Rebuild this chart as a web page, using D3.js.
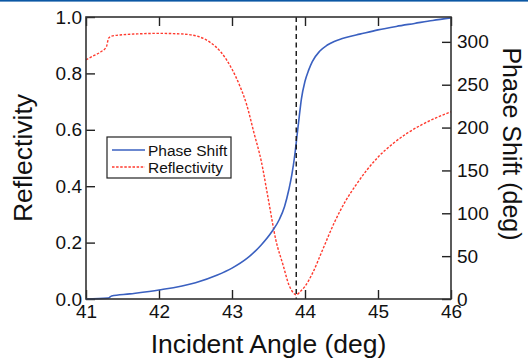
<!DOCTYPE html>
<html>
<head>
<meta charset="utf-8">
<script src="https://cdnjs.cloudflare.com/ajax/libs/d3/7.8.5/d3.min.js"></script>
<style>
  body { margin: 0; background: #fff; }
  svg { display: block; font-family: "Liberation Sans", Arial, sans-serif; }
</style>
</head>
<body>
<div id="chart"></div>
<script>
var width = 528, height = 358;
var margin = {left: 86, right: 77, top: 17, bottom: 59};

// reflectivity curve (red dotted)
var reflAngle = [41.0, 41.1, 41.2, 41.28, 41.31, 41.35, 41.5, 41.7, 42.0, 42.2, 42.4, 42.55, 42.7, 42.85,
  43.0, 43.1, 43.2, 43.3, 43.4, 43.5, 43.6, 43.7, 43.78, 43.84, 43.88, 43.93, 44.0, 44.1, 44.25,
  44.4, 44.55, 44.7, 44.85, 45.0, 45.2, 45.4, 45.6, 45.8, 46.0];
var reflValue = [0.848, 0.862, 0.876, 0.895, 0.925, 0.932, 0.937, 0.940, 0.942, 0.941, 0.938, 0.930, 0.910, 0.875,
  0.815, 0.76, 0.69, 0.59, 0.49, 0.35, 0.21, 0.12, 0.05, 0.022, 0.015, 0.025, 0.045, 0.09, 0.18,
  0.27, 0.345, 0.405, 0.458, 0.503, 0.55, 0.588, 0.618, 0.643, 0.664];

// phase shift curve (blue)
var phaseAngle = [41.0, 41.3, 41.35, 41.6, 42.0, 42.5, 42.8, 43.0, 43.2, 43.4, 43.55, 43.65, 43.72, 43.78,
  43.82, 43.86, 43.89, 43.92, 43.95, 44.0, 44.05, 44.1, 44.2, 44.3, 44.4, 44.5, 44.6, 44.75,
  45.0, 45.25, 45.5, 45.75, 46.0];
var phaseValue = [0, 1, 3.5, 6, 10.5, 19, 28, 36, 47, 63, 79, 93, 108, 128,
  145, 168, 190, 212, 233, 254, 267, 277, 289, 296, 300.5, 303.5, 306, 309,
  314, 318, 321.5, 325, 328];

var resonanceAngle = 43.88;

var xTicks = [41, 42, 43, 44, 45, 46];
var reflTicks = [0.0, 0.2, 0.4, 0.6, 0.8, 1.0];
var phaseTicks = [0, 50, 100, 150, 200, 250, 300];

var legendLabels = ["Phase Shift", "Reflectivity"];

var svg = d3.select("#chart").append("svg")
  .attr("width", width)
  .attr("height", height);

// thin blue rule at the very top
svg.append("rect")
  .attr("x", 0).attr("y", 0)
  .attr("width", width).attr("height", 1.6)
  .attr("fill", "#0b57a4");

var x = d3.scaleLinear().domain([41, 46]).range([margin.left, width - margin.right]);
var yR = d3.scaleLinear().domain([0, 1]).range([height - margin.bottom, margin.top]);
var yP = d3.scaleLinear().domain([0, 329]).range([height - margin.bottom, margin.top]);

var x0 = x.range()[0], x1 = x.range()[1];
var y0 = yR.range()[0], y1 = yR.range()[1];

// axes - ticks pointing inward
var tickLen = 9;
var bottomAxis = d3.axisBottom(x).tickValues(xTicks).tickSize(-tickLen).tickPadding(6).tickFormat(d3.format("d"));
var topAxis = d3.axisTop(x).tickValues(xTicks).tickSize(-tickLen).tickFormat("");
var leftAxis = d3.axisLeft(yR).tickValues(reflTicks).tickSize(-tickLen).tickPadding(4).tickFormat(d3.format(".1f"));
var rightAxis = d3.axisRight(yP).tickValues(phaseTicks).tickSize(-tickLen).tickPadding(6).tickFormat(d3.format("d"));

function styleAxis(g) {
  g.select(".domain").remove();
  g.selectAll(".tick line").attr("stroke", "#222").attr("stroke-width", 1.4);
  g.selectAll(".tick text").attr("fill", "#111").style("font-size", "19px");
}

svg.append("g").attr("transform", "translate(0," + y0 + ")").call(bottomAxis).call(styleAxis);
svg.append("g").attr("transform", "translate(0," + y1 + ")").call(topAxis).call(styleAxis);
svg.append("g").attr("transform", "translate(" + x0 + ",0)").call(leftAxis).call(styleAxis);
svg.append("g").attr("transform", "translate(" + x1 + ",0)").call(rightAxis).call(styleAxis);

// curves
var reflData = reflAngle.map(function(a, i) { return {a: a, v: reflValue[i]}; });
var phaseData = phaseAngle.map(function(a, i) { return {a: a, v: phaseValue[i]}; });

var reflLine = d3.line().x(d => x(d.a)).y(d => yR(d.v)).curve(d3.curveMonotoneX);
var phaseLine = d3.line().x(d => x(d.a)).y(d => yP(d.v)).curve(d3.curveMonotoneX);

svg.append("path")
  .attr("d", reflLine(reflData))
  .attr("fill", "none")
  .attr("stroke", "#ff3a2e")
  .attr("stroke-width", 1.4)
  .attr("stroke-dasharray", "2.5,1.6");

svg.append("path")
  .attr("d", phaseLine(phaseData))
  .attr("fill", "none")
  .attr("stroke", "#3a60c0")
  .attr("stroke-width", 1.6);

// resonance marker
svg.append("line")
  .attr("x1", x(resonanceAngle)).attr("x2", x(resonanceAngle))
  .attr("y1", y1).attr("y2", y0)
  .attr("stroke", "#111")
  .attr("stroke-width", 1.4)
  .attr("stroke-dasharray", "5,3.5");

// frame
svg.append("rect")
  .attr("x", x0).attr("y", y1)
  .attr("width", x1 - x0).attr("height", y0 - y1)
  .attr("fill", "none")
  .attr("stroke", "#333")
  .attr("stroke-width", 1.6);

// axis titles
svg.append("text")
  .attr("x", (x0 + x1) / 2).attr("y", 353)
  .attr("text-anchor", "middle")
  .style("font-size", "26.5px").attr("fill", "#111")
  .text("Incident Angle (deg)");

svg.append("text")
  .attr("transform", "translate(32," + ((y0 + y1) / 2) + ") rotate(-90)")
  .attr("text-anchor", "middle")
  .style("font-size", "26.5px").attr("fill", "#111")
  .text("Reflectivity");

svg.append("text")
  .attr("transform", "translate(503," + ((y0 + y1) / 2 - 14) + ") rotate(90)")
  .attr("text-anchor", "middle")
  .style("font-size", "25px").attr("fill", "#111")
  .text("Phase Shift (deg)");

// legend
var legend = svg.append("g").attr("transform", "translate(107,137)");
legend.append("rect")
  .attr("width", 124).attr("height", 41)
  .attr("fill", "#fff").attr("stroke", "#222").attr("stroke-width", 1.2);

var legendStyles = [
  {stroke: "#3a60c0", dash: null, width: 1.6},
  {stroke: "#ff3a2e", dash: "2.5,1.6", width: 1.4}
];
legendLabels.forEach(function(lbl, i) {
  var yy = 13 + i * 17;
  legend.append("line")
    .attr("x1", 5).attr("x2", 38).attr("y1", yy).attr("y2", yy)
    .attr("stroke", legendStyles[i].stroke)
    .attr("stroke-width", legendStyles[i].width)
    .attr("stroke-dasharray", legendStyles[i].dash);
  legend.append("text")
    .attr("x", 41).attr("y", yy + 5.5)
    .style("font-size", "15.5px").attr("fill", "#111")
    .text(lbl);
});
</script>
</body>
</html>
